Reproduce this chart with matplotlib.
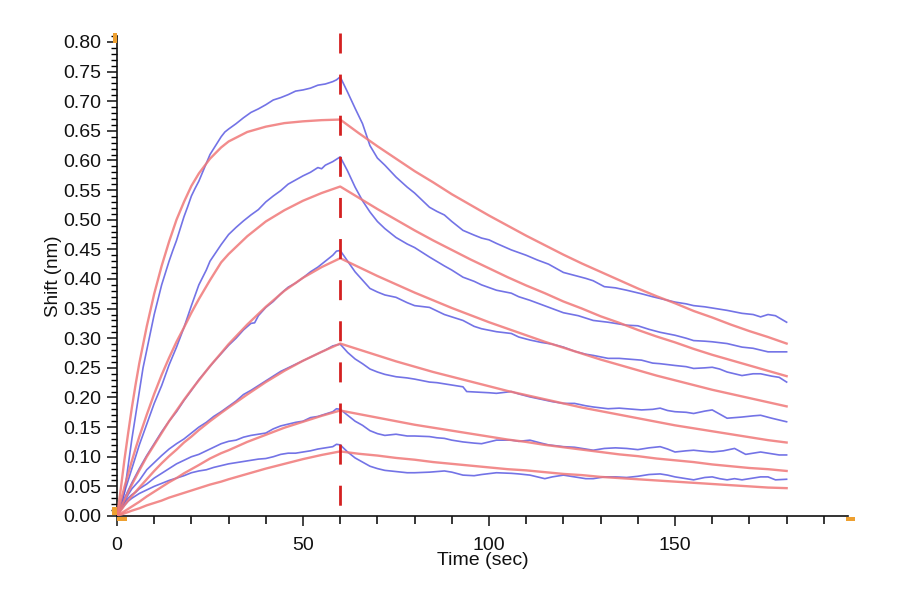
import matplotlib
matplotlib.use("Agg")
import matplotlib.pyplot as plt
from matplotlib.patches import Rectangle
from matplotlib.ticker import MultipleLocator, FixedLocator

plt.rcParams['font.family'] = ['Liberation Sans', 'DejaVu Sans']

# ---------------- data ----------------
fit_t = [0, 1, 2, 3, 4, 5, 6, 8, 10, 12, 14, 16, 18, 20, 22, 25, 28, 30, 35, 40, 45, 50, 55, 60,
         65, 70, 75, 80, 85, 90, 95, 100, 105, 110, 115, 120, 125, 130, 135, 140, 145, 150,
         155, 160, 165, 170, 175, 180]

fit1 = [0, 0.045, 0.095, 0.14, 0.183, 0.222, 0.258, 0.320, 0.375, 0.422, 0.463, 0.500, 0.530, 0.557,
        0.578, 0.603, 0.622, 0.632, 0.648, 0.657, 0.663, 0.666, 0.668, 0.669,
        0.646, 0.624, 0.603, 0.582, 0.563, 0.543, 0.525, 0.507, 0.490, 0.473, 0.457, 0.441,
        0.426, 0.412, 0.398, 0.384, 0.371, 0.359, 0.346, 0.335, 0.323, 0.312, 0.302, 0.291]
fit2 = [0, 0.025, 0.049, 0.071, 0.093, 0.114, 0.134, 0.171, 0.206, 0.238, 0.267, 0.294, 0.318, 0.343,
        0.366, 0.398, 0.428, 0.442, 0.472, 0.497, 0.516, 0.532, 0.545, 0.556,
        0.537, 0.518, 0.500, 0.482, 0.465, 0.449, 0.433, 0.418, 0.403, 0.389, 0.376, 0.362,
        0.350, 0.337, 0.326, 0.314, 0.303, 0.293, 0.282, 0.272, 0.263, 0.254, 0.245, 0.236]
fit3 = [0, 0.014, 0.027, 0.040, 0.053, 0.065, 0.077, 0.100, 0.120, 0.140, 0.160, 0.178, 0.196, 0.213,
        0.229, 0.253, 0.275, 0.290, 0.323, 0.353, 0.380, 0.402, 0.420, 0.435,
        0.420, 0.405, 0.391, 0.377, 0.364, 0.351, 0.339, 0.327, 0.316, 0.305, 0.294, 0.284,
        0.274, 0.264, 0.255, 0.246, 0.237, 0.229, 0.221, 0.213, 0.206, 0.199, 0.192, 0.185]
fit4 = [0, 0.009, 0.018, 0.026, 0.034, 0.041, 0.048, 0.062, 0.076, 0.089, 0.101, 0.112, 0.124, 0.134,
        0.145, 0.160, 0.174, 0.183, 0.205, 0.226, 0.245, 0.262, 0.277, 0.291,
        0.281, 0.271, 0.261, 0.252, 0.243, 0.235, 0.227, 0.219, 0.211, 0.204, 0.197, 0.190,
        0.183, 0.177, 0.171, 0.165, 0.159, 0.153, 0.148, 0.143, 0.138, 0.133, 0.128, 0.124]
fit5 = [0, 0.004, 0.008, 0.012, 0.016, 0.020, 0.024, 0.033, 0.041, 0.049, 0.057, 0.064, 0.072, 0.079,
        0.086, 0.097, 0.106, 0.111, 0.125, 0.137, 0.149, 0.159, 0.169, 0.178,
        0.172, 0.166, 0.160, 0.154, 0.149, 0.144, 0.139, 0.134, 0.129, 0.125, 0.120, 0.116,
        0.112, 0.108, 0.104, 0.101, 0.097, 0.094, 0.091, 0.087, 0.084, 0.081, 0.079, 0.076]
fit6 = [0, 0.002, 0.0045, 0.0067, 0.009, 0.011, 0.013, 0.018, 0.022, 0.026, 0.031, 0.035, 0.039, 0.043,
        0.047, 0.053, 0.058, 0.062, 0.071, 0.080, 0.088, 0.096, 0.103, 0.109,
        0.105, 0.102, 0.098, 0.095, 0.091, 0.088, 0.085, 0.082, 0.079, 0.077, 0.074, 0.071,
        0.069, 0.066, 0.064, 0.062, 0.060, 0.058, 0.056, 0.054, 0.052, 0.050, 0.048, 0.047]

# measured traces: (time s, shift nm)
trace1 = [(0, 0.0), (1, 0.015), (2, 0.04), (3, 0.085), (4, 0.13), (5, 0.17), (6, 0.21), (7, 0.25),
          (8, 0.28), (9, 0.31), (10, 0.34), (11, 0.365), (12, 0.39), (13, 0.41), (14, 0.43),
          (15, 0.448), (16, 0.465), (17, 0.485), (18, 0.505), (19, 0.522), (20, 0.54), (21, 0.553),
          (22, 0.565), (23, 0.58), (24, 0.595), (25, 0.61), (26, 0.62), (27, 0.63), (28, 0.64),
          (29, 0.648), (30, 0.653), (32, 0.662), (34, 0.672), (36, 0.681), (38, 0.687), (40, 0.694),
          (42, 0.702), (44, 0.706), (46, 0.711), (48, 0.717), (50, 0.719), (52, 0.722), (54, 0.727),
          (56, 0.729), (58, 0.733), (59, 0.736), (60, 0.741),
          (62, 0.715), (64, 0.688), (66, 0.662), (68, 0.625), (70, 0.604), (72, 0.592), (75, 0.572),
          (78, 0.555), (80, 0.545), (84, 0.521), (86, 0.514), (88, 0.508), (90, 0.497), (93, 0.482),
          (96, 0.474), (98, 0.469), (100, 0.466), (102, 0.46), (106, 0.449), (110, 0.44),
          (113, 0.432), (116, 0.425), (120, 0.411), (123, 0.406), (126, 0.401), (128, 0.397),
          (131, 0.387), (134, 0.385), (137, 0.381), (141, 0.375), (144, 0.37), (146, 0.367),
          (150, 0.361), (153, 0.358), (155, 0.355), (158, 0.353), (160, 0.351), (164, 0.347),
          (168, 0.342), (171, 0.34), (173, 0.336), (175, 0.34), (177, 0.338), (180, 0.327)]
trace2 = [(0, 0.0), (2, 0.04), (4, 0.08), (6, 0.12), (8, 0.155), (10, 0.19), (12, 0.22), (14, 0.255),
          (16, 0.285), (18, 0.318), (20, 0.355), (22, 0.39), (24, 0.415), (25, 0.43), (28, 0.458),
          (30, 0.475), (32, 0.487), (34, 0.498), (36, 0.508), (38, 0.517), (40, 0.53), (42, 0.54),
          (44, 0.549), (46, 0.56), (48, 0.567), (50, 0.574), (52, 0.58), (54, 0.588), (55, 0.586),
          (56, 0.592), (58, 0.598), (60, 0.606),
          (62, 0.582), (64, 0.555), (66, 0.532), (68, 0.513), (70, 0.497), (72, 0.485), (75, 0.47),
          (78, 0.459), (80, 0.453), (84, 0.437), (88, 0.422), (90, 0.415), (93, 0.403), (96, 0.396),
          (98, 0.39), (102, 0.381), (106, 0.376), (108, 0.37), (111, 0.364), (114, 0.357),
          (117, 0.35), (120, 0.343), (124, 0.338), (128, 0.33), (132, 0.327), (134, 0.325),
          (137, 0.322), (140, 0.321), (143, 0.315), (146, 0.31), (150, 0.305), (153, 0.3),
          (155, 0.296), (158, 0.295), (160, 0.294), (164, 0.291), (168, 0.285), (171, 0.283),
          (175, 0.277), (178, 0.277), (180, 0.277)]
trace3 = [(0, 0.0), (2, 0.03), (4, 0.056), (6, 0.08), (8, 0.102), (10, 0.122), (12, 0.142), (14, 0.16),
          (16, 0.176), (18, 0.195), (20, 0.212), (22, 0.23), (24, 0.245), (26, 0.26), (28, 0.274),
          (30, 0.288), (32, 0.3), (34, 0.314), (36, 0.325), (37, 0.326), (38, 0.338), (40, 0.352),
          (42, 0.362), (44, 0.375), (46, 0.386), (48, 0.393), (50, 0.402), (52, 0.412), (54, 0.42),
          (56, 0.43), (58, 0.44), (59, 0.447), (60, 0.448),
          (62, 0.43), (64, 0.412), (66, 0.398), (68, 0.384), (70, 0.378), (72, 0.373), (75, 0.369),
          (78, 0.36), (80, 0.355), (84, 0.352), (86, 0.346), (88, 0.34), (90, 0.336), (93, 0.33),
          (96, 0.32), (98, 0.316), (102, 0.311), (106, 0.308), (108, 0.302), (111, 0.297),
          (114, 0.293), (117, 0.29), (120, 0.285), (123, 0.278), (126, 0.273), (128, 0.271),
          (132, 0.266), (135, 0.266), (137, 0.265), (141, 0.263), (144, 0.258), (146, 0.257),
          (150, 0.254), (153, 0.252), (155, 0.249), (158, 0.25), (160, 0.251), (162, 0.248),
          (164, 0.243), (168, 0.237), (171, 0.24), (173, 0.24), (176, 0.236), (178, 0.234),
          (180, 0.226)]
trace4 = [(0, 0.0), (1, 0.012), (2, 0.024), (3, 0.036), (4, 0.046), (6, 0.06), (8, 0.078), (10, 0.09),
          (12, 0.102), (14, 0.113), (16, 0.122), (18, 0.13), (20, 0.14), (22, 0.15), (24, 0.158),
          (26, 0.168), (28, 0.176), (30, 0.185), (32, 0.194), (34, 0.205), (36, 0.212), (38, 0.22),
          (40, 0.228), (42, 0.236), (44, 0.244), (46, 0.25), (48, 0.256), (50, 0.262), (52, 0.268),
          (54, 0.274), (56, 0.28), (58, 0.287), (60, 0.29),
          (62, 0.276), (64, 0.265), (66, 0.257), (68, 0.248), (70, 0.243), (72, 0.239), (75, 0.235),
          (78, 0.233), (80, 0.231), (84, 0.226), (86, 0.225), (88, 0.223), (90, 0.221), (93, 0.218),
          (94, 0.21), (97, 0.209), (100, 0.208), (102, 0.207), (106, 0.21), (108, 0.206),
          (111, 0.201), (114, 0.197), (117, 0.193), (120, 0.19), (123, 0.19), (126, 0.186),
          (128, 0.184), (132, 0.181), (135, 0.182), (137, 0.181), (141, 0.179), (144, 0.18),
          (146, 0.182), (148, 0.178), (150, 0.176), (153, 0.175), (155, 0.173), (158, 0.177),
          (160, 0.179), (162, 0.172), (164, 0.165), (166, 0.166), (168, 0.167), (171, 0.169),
          (173, 0.17), (176, 0.165), (178, 0.162), (180, 0.159)]
trace5 = [(0, 0.0), (1, 0.012), (2, 0.022), (3, 0.03), (4, 0.036), (5, 0.04), (6, 0.046), (8, 0.054),
          (10, 0.064), (12, 0.072), (14, 0.08), (16, 0.088), (18, 0.094), (20, 0.1), (22, 0.104),
          (24, 0.11), (26, 0.116), (28, 0.122), (30, 0.126), (32, 0.128), (34, 0.133), (36, 0.136),
          (38, 0.138), (40, 0.14), (42, 0.147), (44, 0.152), (46, 0.155), (48, 0.158), (50, 0.16),
          (52, 0.166), (54, 0.168), (56, 0.172), (58, 0.176), (59, 0.181), (60, 0.18),
          (62, 0.17), (64, 0.16), (66, 0.153), (68, 0.144), (70, 0.139), (72, 0.136), (75, 0.138),
          (78, 0.135), (80, 0.135), (84, 0.134), (86, 0.132), (88, 0.131), (90, 0.128), (93, 0.125),
          (96, 0.123), (98, 0.122), (100, 0.125), (102, 0.128), (106, 0.128), (108, 0.126),
          (111, 0.128), (114, 0.123), (116, 0.12), (120, 0.117), (123, 0.116), (126, 0.113),
          (128, 0.111), (131, 0.114), (134, 0.115), (137, 0.114), (140, 0.112), (143, 0.115),
          (146, 0.117), (148, 0.113), (150, 0.108), (153, 0.11), (155, 0.111), (158, 0.109),
          (160, 0.108), (163, 0.11), (166, 0.114), (169, 0.104), (171, 0.106), (173, 0.108),
          (176, 0.105), (178, 0.103), (180, 0.103)]
trace6 = [(0, 0.0), (1, 0.01), (2, 0.018), (3, 0.025), (4, 0.03), (5, 0.034), (6, 0.038), (8, 0.044),
          (10, 0.05), (12, 0.055), (14, 0.06), (16, 0.064), (18, 0.068), (20, 0.073), (22, 0.076),
          (24, 0.078), (26, 0.082), (28, 0.085), (30, 0.088), (32, 0.09), (34, 0.092), (36, 0.094),
          (38, 0.096), (40, 0.097), (42, 0.1), (44, 0.104), (46, 0.106), (48, 0.106), (50, 0.108),
          (52, 0.11), (54, 0.113), (56, 0.115), (58, 0.117), (59, 0.121), (60, 0.12),
          (62, 0.108), (64, 0.098), (66, 0.091), (68, 0.084), (70, 0.08), (72, 0.077), (75, 0.075),
          (78, 0.073), (80, 0.073), (84, 0.074), (86, 0.075), (88, 0.076), (90, 0.074), (93, 0.069),
          (96, 0.068), (98, 0.07), (102, 0.073), (106, 0.072), (108, 0.071), (111, 0.069),
          (113, 0.066), (115, 0.063), (117, 0.066), (120, 0.069), (123, 0.066), (126, 0.063),
          (128, 0.063), (131, 0.066), (134, 0.066), (137, 0.065), (140, 0.067), (143, 0.07),
          (146, 0.071), (148, 0.069), (150, 0.066), (153, 0.063), (155, 0.061), (158, 0.065),
          (160, 0.066), (162, 0.063), (164, 0.061), (166, 0.063), (168, 0.061), (171, 0.064),
          (173, 0.066), (175, 0.066), (177, 0.061), (180, 0.062)]

switch_time = 60
x_major = [0, 50, 100, 150]
x_label = "Time (sec)"
y_label = "Shift (nm)"

traces = [trace1, trace2, trace3, trace4, trace5, trace6]
fits = [fit1, fit2, fit3, fit4, fit5, fit6]

# ---------------- figure ----------------
fig = plt.figure(figsize=(9, 6), dpi=100)
ax = fig.add_axes([117 / 900, 84 / 600, 731 / 900, 480 / 600])

for tr in traces:
    t = [p[0] for p in tr]
    v = [p[1] for p in tr]
    ax.plot(t, v, color='#5050e0', lw=1.2, alpha=0.8, zorder=2)
for f in fits:
    ax.plot(fit_t, f, color='#f07878', lw=1.7, alpha=0.85, zorder=3)

ax.plot([switch_time, switch_time], [0.815, 0.0], color='#d42020', lw=2.0,
        dashes=(7.2, 7.6), clip_on=False, zorder=4)

ax.set_xlim(0, 196.5)
ax.set_ylim(0, 0.81)

for s in ['top', 'right']:
    ax.spines[s].set_visible(False)
for s in ['left', 'bottom']:
    ax.spines[s].set_linewidth(1.2)
    ax.spines[s].set_color('#111111')

ax.xaxis.set_major_locator(FixedLocator(x_major))
ax.xaxis.set_minor_locator(MultipleLocator(10))
ax.yaxis.set_major_locator(MultipleLocator(0.05))
ax.yaxis.set_minor_locator(MultipleLocator(0.01))
ax.yaxis.set_major_formatter(matplotlib.ticker.FormatStrFormatter('%.2f'))

ax.tick_params(axis='x', which='major', direction='out', length=7, width=1.1, pad=8,
               labelsize=14, colors='#111111')
ax.tick_params(axis='x', which='minor', direction='out', length=6, width=1.1)
ax.tick_params(axis='y', which='major', direction='out', length=7, width=1.1, pad=4,
               labelsize=14, colors='#111111')
ax.tick_params(axis='y', which='minor', direction='out', length=4, width=1.0)

ax.set_xlabel(x_label, fontsize=14, labelpad=-1, color='#111111')
ax.set_ylabel(y_label, fontsize=13.5, labelpad=1, color='#111111')

# orange axis-end handles
orange = '#eea030'
for (x0, y0, w, h) in [(-5 / 731, 1 / 480, 5 / 731, 8 / 480),
                       (-4 / 731, 473 / 480, 4 / 731, 10 / 480),
                       (0, -5 / 480, 10 / 731, 4 / 480),
                       (729 / 731, -5 / 480, 9 / 731, 4 / 480)]:
    ax.add_patch(Rectangle((x0, y0), w, h, transform=ax.transAxes, color=orange,
                           clip_on=False, zorder=5, lw=0))

fig.savefig('out.png', dpi=100)
